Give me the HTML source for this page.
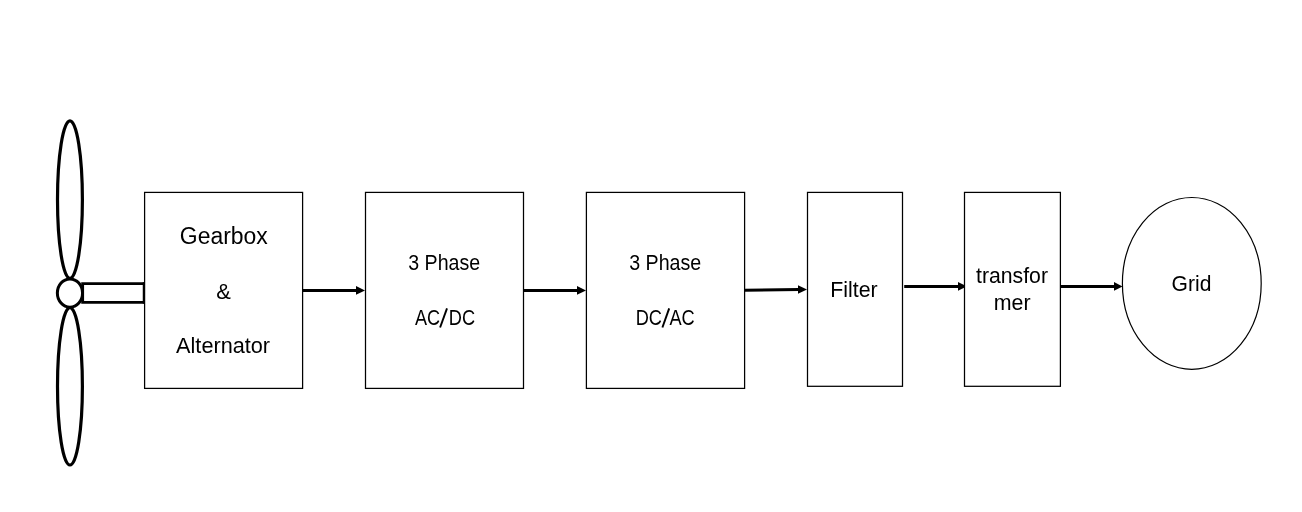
<!DOCTYPE html>
<html>
<head>
<meta charset="utf-8">
<style>
html,body{margin:0;padding:0;background:#fff;width:1302px;height:512px;overflow:hidden;}
svg{display:block;will-change:transform;}
text{font-family:"Liberation Sans", sans-serif;fill:#000;}
</style>
</head>
<body>
<svg width="1302" height="512" viewBox="0 0 1302 512">
<rect x="0" y="0" width="1302" height="512" fill="#fff"/>
<g fill="none" stroke="#000">
  <!-- blades -->
  <ellipse cx="69.95" cy="199.6" rx="12.45" ry="78.8" stroke-width="3.2"/>
  <ellipse cx="69.95" cy="386.3" rx="12.45" ry="78.7" stroke-width="3.2"/>
  <!-- shaft -->
  <path d="M144.2,283.55 H82.65 V302.3 H144.2" stroke-width="2.85" stroke-linejoin="miter" stroke-linecap="butt"/>
  <line x1="143.8" y1="282.2" x2="143.8" y2="303.7" stroke-width="2.1"/>
  <!-- hub -->
  <ellipse cx="69.95" cy="293.05" rx="12.6" ry="14.15" stroke-width="3" fill="#fff"/>
  <!-- boxes -->
  <rect x="144.6" y="192.4" width="158" height="196" stroke-width="1.25"/>
  <rect x="365.5" y="192.4" width="158" height="196" stroke-width="1.25"/>
  <rect x="586.4" y="192.4" width="158.2" height="196" stroke-width="1.25"/>
  <rect x="807.5" y="192.4" width="95" height="193.9" stroke-width="1.25"/>
  <rect x="964.5" y="192.4" width="95.9" height="193.9" stroke-width="1.25"/>
  <!-- grid ellipse -->
  <ellipse cx="1191.8" cy="283.4" rx="69.4" ry="85.9" stroke-width="1.2"/>
  <!-- arrow shafts -->
  <line x1="303" y1="290.5" x2="357" y2="290.5" stroke-width="3"/>
  <line x1="524" y1="290.5" x2="578" y2="290.5" stroke-width="3"/>
  <line x1="745" y1="290.35" x2="799" y2="289.55" stroke-width="3"/>
  <line x1="904.2" y1="286.5" x2="959" y2="286.5" stroke-width="3"/>
  <line x1="1061" y1="286.5" x2="1115" y2="286.5" stroke-width="3"/>
</g>
<g stroke="#000" stroke-width="1.95" fill="none">
  <line x1="440.1" y1="327.5" x2="447" y2="308.3"/>
  <line x1="662.4" y1="327.5" x2="669.2" y2="308.3"/>
</g>
<g fill="#000" stroke="none">
  <polygon points="356,286 365,290.4 356,294.8"/>
  <polygon points="577,286 586,290.4 577,294.8"/>
  <polygon points="798,285.2 807,289.5 798,293.8"/>
  <polygon points="958,282 964.6,285.2 964.6,287.6 958,290.8"/>
  <polygon points="1114,282 1122.5,286.4 1114,290.8"/>
</g>
<g text-anchor="middle">
  <text x="223.8" y="243.8" font-size="23" textLength="88" lengthAdjust="spacingAndGlyphs">Gearbox</text>
  <text x="223.5" y="298.6" font-size="22.5" textLength="14.6" lengthAdjust="spacingAndGlyphs">&amp;</text>
  <text x="223.1" y="352.9" font-size="21.5" textLength="94" lengthAdjust="spacingAndGlyphs">Alternator</text>
  <text x="444.2" y="270" font-size="21.5" textLength="71.9" lengthAdjust="spacingAndGlyphs">3 Phase</text>
  <text x="427.55" y="324.8" font-size="21.5" textLength="25.1" lengthAdjust="spacingAndGlyphs">AC</text>
  <text x="462" y="324.8" font-size="21.5" textLength="26.3" lengthAdjust="spacingAndGlyphs">DC</text>
  <text x="665.2" y="270" font-size="21.5" textLength="72.1" lengthAdjust="spacingAndGlyphs">3 Phase</text>
  <text x="648.8" y="324.8" font-size="21.5" textLength="26.3" lengthAdjust="spacingAndGlyphs">DC</text>
  <text x="682.1" y="324.8" font-size="21.5" textLength="25.3" lengthAdjust="spacingAndGlyphs">AC</text>
  <text x="854" y="296.8" font-size="21.5" textLength="47.4" lengthAdjust="spacingAndGlyphs">Filter</text>
  <text x="1012" y="282.9" font-size="21.5" textLength="72" lengthAdjust="spacingAndGlyphs">transfor</text>
  <text x="1012.2" y="309.8" font-size="21.5" textLength="36.8" lengthAdjust="spacingAndGlyphs">mer</text>
  <text x="1191.5" y="290.8" font-size="21.5" textLength="39.8" lengthAdjust="spacingAndGlyphs">Grid</text>
</g>
</svg>
</body>
</html>
